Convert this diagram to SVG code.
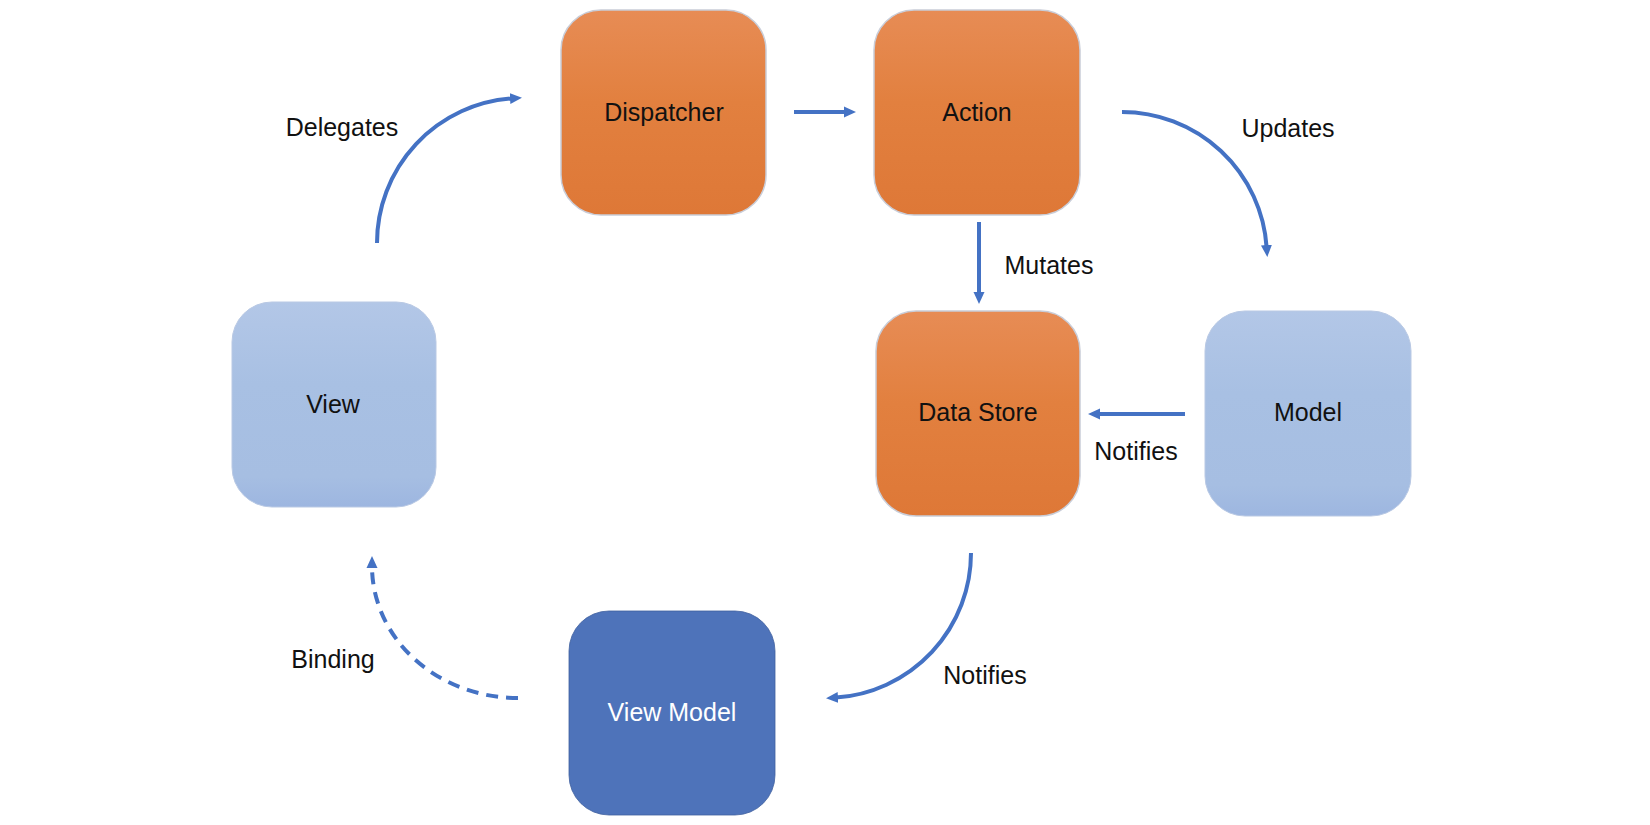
<svg xmlns="http://www.w3.org/2000/svg" width="1650" height="825" viewBox="0 0 1650 825">
<defs>
<linearGradient id="gOrange" x1="0" y1="0" x2="0" y2="1">
<stop offset="0" stop-color="#E78C55"/>
<stop offset="0.45" stop-color="#E2803F"/>
<stop offset="1" stop-color="#DE7837"/>
</linearGradient>
<linearGradient id="gBlue" x1="0" y1="0" x2="0" y2="1">
<stop offset="0" stop-color="#B3C7E7"/>
<stop offset="0.4" stop-color="#A8C0E3"/>
<stop offset="0.85" stop-color="#A6BEE2"/>
<stop offset="1" stop-color="#9DB6E0"/>
</linearGradient>
<marker id="arr" markerUnits="userSpaceOnUse" markerWidth="14" markerHeight="14" viewBox="0 0 14 14" refX="2" refY="7" orient="auto">
<path d="M0,1.5 L12,7 L0,12.5 z" fill="#4472C4"/>
</marker>
<style>
.lbl{font-family:"Liberation Sans",Arial,sans-serif;font-size:25px;fill:#111;text-anchor:middle}
.wlbl{font-family:"Liberation Sans",Arial,sans-serif;font-size:25px;fill:#fff;text-anchor:middle}
.or{fill:url(#gOrange);stroke:#C9CDD8;stroke-width:1.5}
.lb{fill:url(#gBlue);stroke:#B9C9E4;stroke-width:1}
.vm{fill:#4E73BA;stroke:#3F5F9E;stroke-width:0.8}
.con{fill:none;stroke:#4472C4;stroke-width:4}
</style>
</defs>
<rect width="1650" height="825" fill="#fff"/>
<g id="dispatcher">
<rect class="or" x="561" y="10" width="205" height="205" rx="40"/>
<text class="lbl" x="664" y="121">Dispatcher</text>
</g>
<g id="action">
<rect class="or" x="874" y="10" width="206" height="205" rx="40"/>
<text class="lbl" x="977" y="121">Action</text>
</g>
<g id="view">
<rect class="lb" x="232" y="302" width="204" height="205" rx="40"/>
<text class="lbl" x="333" y="413">View</text>
</g>
<g id="datastore">
<rect class="or" x="876" y="311" width="204" height="205" rx="40"/>
<text class="lbl" x="978" y="421">Data Store</text>
</g>
<g id="model">
<rect class="lb" x="1205" y="311" width="206" height="205" rx="40"/>
<text class="lbl" x="1308" y="421">Model</text>
</g>
<g id="viewmodel">
<rect class="vm" x="569" y="611" width="206" height="204" rx="40"/>
<text class="wlbl" x="672" y="721">View Model</text>
</g>
<g id="connectors">
<path class="con" d="M377,243 A145,145 0 0 1 512,98.4" marker-end="url(#arr)"/>
<path class="con" d="M794,112 L846,112" marker-end="url(#arr)"/>
<path class="con" d="M1122,112 A145,145 0 0 1 1266.6,247" marker-end="url(#arr)"/>
<path class="con" d="M979,222 L979,294" marker-end="url(#arr)"/>
<path class="con" d="M1185,414 L1098,414" marker-end="url(#arr)"/>
<path class="con" d="M971,553 A145,145 0 0 1 836,697.6" marker-end="url(#arr)"/>
<path class="con" d="M518,698 A146,132 0 0 1 372,566" stroke-dasharray="12 8" marker-end="url(#arr)"/>
<text class="lbl" x="342" y="136">Delegates</text>
<text class="lbl" x="1288" y="137">Updates</text>
<text class="lbl" x="1049" y="274">Mutates</text>
<text class="lbl" x="1136" y="460">Notifies</text>
<text class="lbl" x="985" y="684">Notifies</text>
<text class="lbl" x="333" y="668">Binding</text>
</g>
</svg>
